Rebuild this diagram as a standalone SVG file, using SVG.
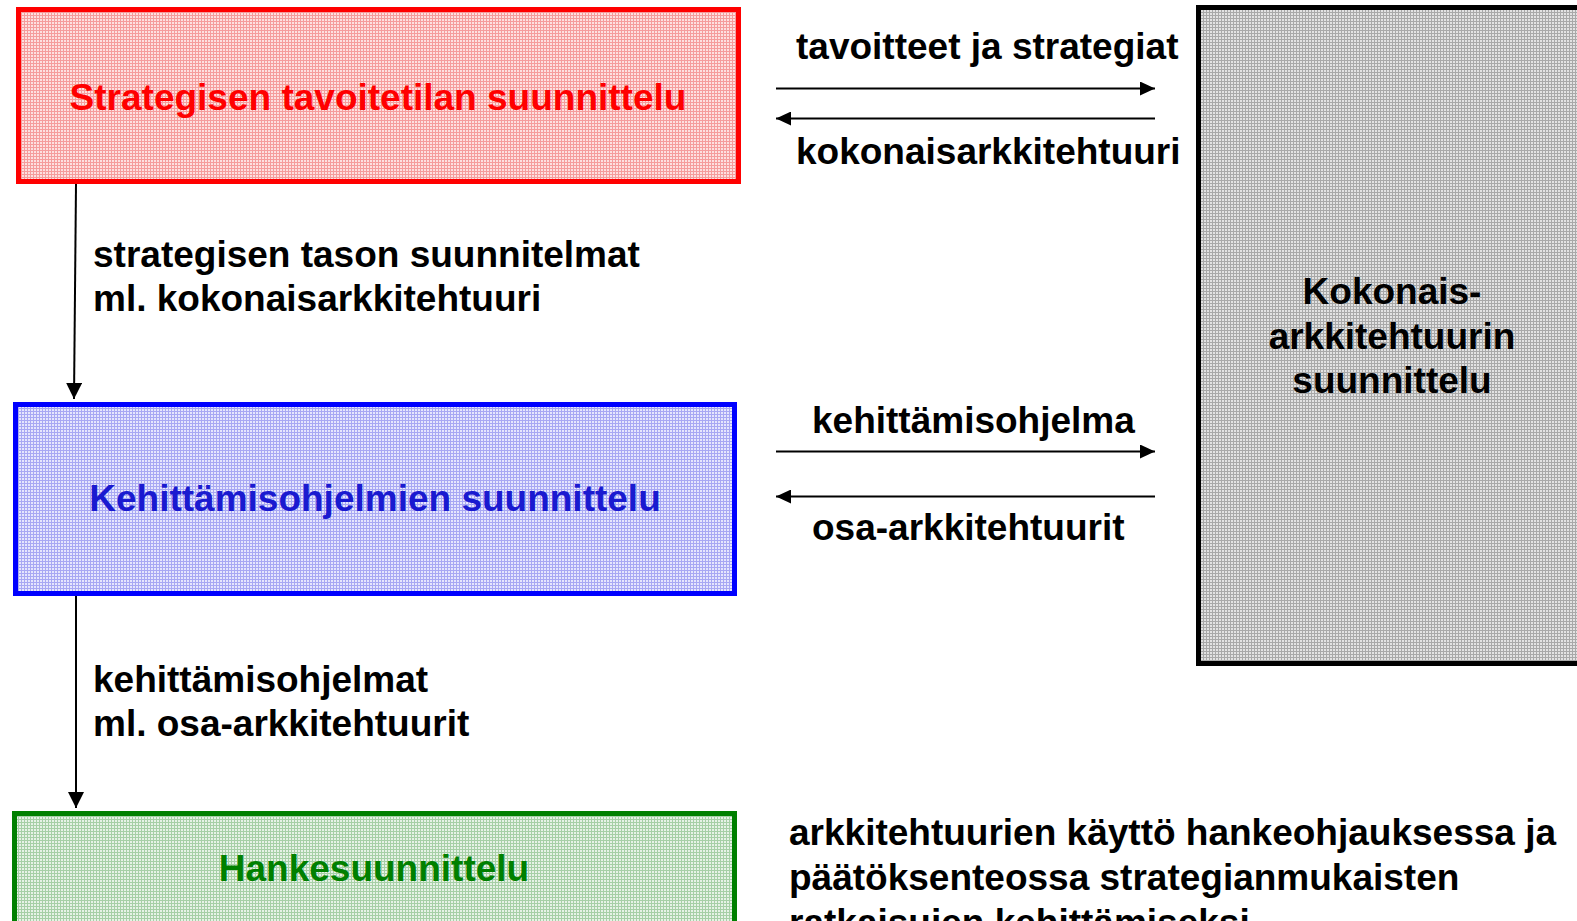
<svg xmlns="http://www.w3.org/2000/svg" width="1577" height="921" viewBox="0 0 1577 921">
<style>
text{font-family:"Liberation Sans",Arial,sans-serif;font-weight:bold;font-size:37px}
.lbl{fill:#000}
.mid{text-anchor:middle}
.conn{stroke:#000;stroke-width:2;fill:none}
</style>
<defs>
<pattern id="pr" width="3" height="3" patternUnits="userSpaceOnUse"><rect width="3" height="3" fill="#fde0e0"/><rect width="3" height="1" fill="#f59c9c"/><rect width="1" height="3" fill="#f59c9c"/></pattern>
<pattern id="pb" width="3" height="3" patternUnits="userSpaceOnUse"><rect width="3" height="3" fill="#e6e6fd"/><rect width="3" height="1" fill="#a8a8f3"/><rect width="1" height="3" fill="#a8a8f3"/></pattern>
<pattern id="pg" width="3" height="3" patternUnits="userSpaceOnUse"><rect width="3" height="3" fill="#e6f2e6"/><rect width="3" height="1" fill="#a6cfa6"/><rect width="1" height="3" fill="#a6cfa6"/></pattern>
<pattern id="pk" width="3" height="3" patternUnits="userSpaceOnUse"><rect width="3" height="3" fill="#e2e2e2"/><rect width="3" height="1" fill="#a8a8a8"/><rect width="1" height="3" fill="#a8a8a8"/></pattern>
<marker id="ah" viewBox="0 0 15 14" refX="15" refY="7" markerWidth="15" markerHeight="14" markerUnits="userSpaceOnUse" orient="auto"><path d="M0,0 L15,7 L0,14 Z" fill="#000"/></marker>
<marker id="av" viewBox="0 0 16 16" refX="16" refY="8" markerWidth="16" markerHeight="16" markerUnits="userSpaceOnUse" orient="auto"><path d="M0,0 L16,8 L0,16 Z" fill="#000"/></marker>
</defs>
<rect width="1577" height="921" fill="#fff"/>

<g id="node-strategic">
<rect x="18.5" y="9.5" width="720" height="172" fill="url(#pr)" stroke="#ff0000" stroke-width="5"/>
<text x="378" y="110" class="mid" fill="#ff0000">Strategisen tavoitetilan suunnittelu</text>
</g>

<g id="node-program">
<rect x="15.5" y="404.5" width="719" height="189" fill="url(#pb)" stroke="#0000ff" stroke-width="5"/>
<text x="375" y="511" class="mid" fill="#1a1ad0">Kehittämisohjelmien suunnittelu</text>
</g>

<g id="node-project">
<rect x="14.5" y="813.5" width="720" height="130" fill="url(#pg)" stroke="#008000" stroke-width="5"/>
<text x="374" y="881" class="mid" fill="#008000">Hankesuunnittelu</text>
</g>

<g id="node-ea">
<rect x="1198.5" y="7.5" width="400" height="656" fill="url(#pk)" stroke="#000" stroke-width="5"/>
<text x="1392" y="304" class="mid lbl">Kokonais-</text>
<text x="1392" y="349" class="mid lbl">arkkitehtuurin</text>
<text x="1392" y="393" class="mid lbl">suunnittelu</text>
</g>

<g id="connectors">
<line class="conn" x1="76" y1="184" x2="74" y2="399" marker-end="url(#av)"/>
<line class="conn" x1="76" y1="596" x2="76" y2="808" marker-end="url(#av)"/>
<line class="conn" x1="776" y1="88.5" x2="1155" y2="88.5" marker-end="url(#ah)"/>
<line class="conn" x1="1155" y1="118.5" x2="776" y2="118.5" marker-end="url(#ah)"/>
<line class="conn" x1="776" y1="451.5" x2="1155" y2="451.5" marker-end="url(#ah)"/>
<line class="conn" x1="1155" y1="496.5" x2="776" y2="496.5" marker-end="url(#ah)"/>
</g>

<g id="labels">
<text x="93" y="267" class="lbl">strategisen tason suunnitelmat</text>
<text x="93" y="311" class="lbl">ml. kokonaisarkkitehtuuri</text>
<text x="93" y="692" class="lbl">kehittämisohjelmat</text>
<text x="93" y="736" class="lbl">ml. osa-arkkitehtuurit</text>
<text x="796" y="59" class="lbl">tavoitteet ja strategiat</text>
<text x="796" y="164" class="lbl">kokonaisarkkitehtuuri</text>
<text x="812" y="433" class="lbl">kehittämisohjelma</text>
<text x="812" y="540" class="lbl">osa-arkkitehtuurit</text>
<text x="789" y="845" class="lbl">arkkitehtuurien käyttö hankeohjauksessa ja</text>
<text x="789" y="890" class="lbl">päätöksenteossa strategianmukaisten</text>
<text x="789" y="935" class="lbl">ratkaisujen kehittämiseksi</text>
</g>
</svg>
